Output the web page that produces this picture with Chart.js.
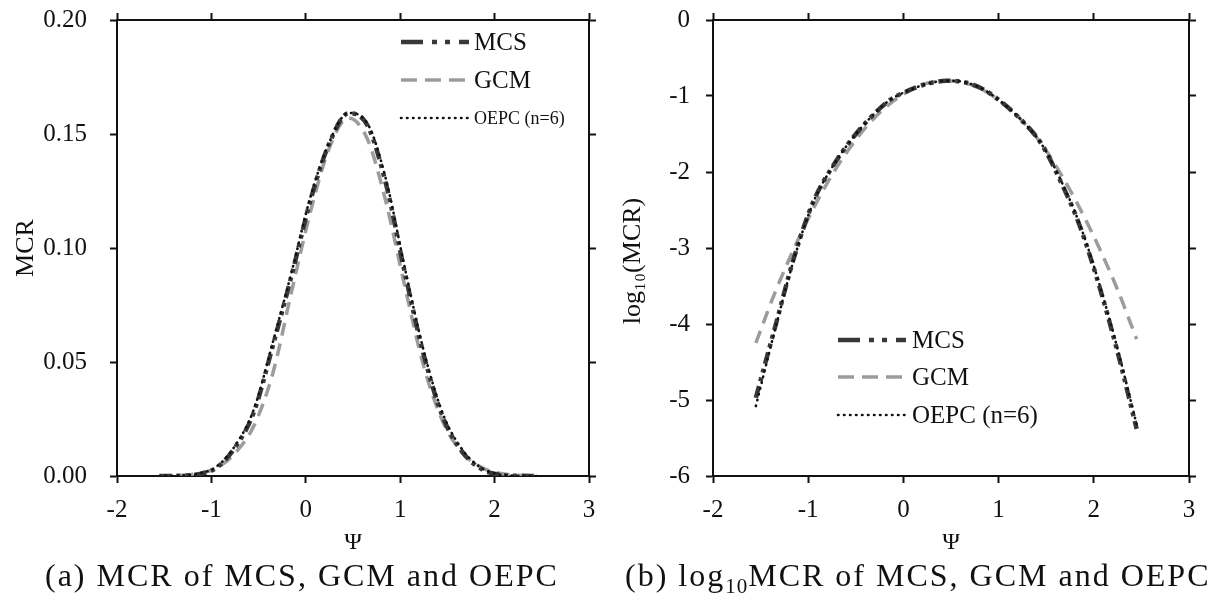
<!DOCTYPE html>
<html>
<head>
<meta charset="utf-8">
<script src="https://cdn.jsdelivr.net/npm/chart.js@4.4.0/dist/chart.umd.min.js"></script>
<style>
  html, body { margin: 0; padding: 0; background: #fff; }
  body { width: 1216px; height: 593px; position: relative; overflow: hidden; font-family: "Liberation Serif", serif; }
  .box { position: absolute; top: 0; height: 593px; }
  #boxA { left: 0; width: 600px; }
  #boxB { left: 600px; width: 616px; }
  .cap { position: absolute; top: 557px; font-size: 32px; line-height: 36px; color: #111; white-space: nowrap; font-family: "Liberation Serif", serif; letter-spacing: 2px; }
  .cap sub { font-size: 21px; vertical-align: -7px; line-height: 0; letter-spacing: 1px; }
</style>
</head>
<body>
<div class="box" id="boxA"><canvas id="chartA"></canvas></div>
<div class="box" id="boxB"><canvas id="chartB"></canvas></div>
<div class="cap" style="left:45px">(a) MCR of MCS, GCM and OEPC</div>
<div class="cap" style="left:625px">(b) log<sub>10</sub>MCR of MCS, GCM and OEPC</div>
<script>
// Ψ grid used by every curve
const psi = [-1.55, -1.35, -1.15, -0.95, -0.75, -0.55, -0.35, -0.15, 0.05, 0.25, 0.45,
             0.65, 0.85, 1.05, 1.25, 1.45, 1.65, 1.85, 2.05, 2.25, 2.45];

// (a) MCR
const mcrMCS  = [0.0000, 0.0001, 0.0007, 0.0035, 0.0125, 0.0280, 0.0570, 0.0880, 0.1210, 0.1460, 0.1590,
                 0.1540, 0.1280, 0.0890, 0.0530, 0.0260, 0.0110, 0.0033, 0.0006, 0.0001, 0.0000];
const mcrGCM  = [0.0001, 0.0003, 0.0010, 0.0034, 0.0100, 0.0220, 0.0450, 0.0810, 0.1160, 0.1440, 0.1570,
                 0.1480, 0.1200, 0.0830, 0.0480, 0.0240, 0.0105, 0.0040, 0.0012, 0.0003, 0.0001];
const mcrOEPC = [0.0000, 0.0002, 0.0010, 0.0040, 0.0132, 0.0292, 0.0585, 0.0895, 0.1225, 0.1465, 0.1592,
                 0.1548, 0.1300, 0.0910, 0.0548, 0.0275, 0.0120, 0.0038, 0.0007, 0.0001, 0.0000];

// (b) log10(MCR)
const logMCS  = [-4.97, -4.05, -3.13, -2.40, -1.94, -1.58, -1.29, -1.06, -0.93, -0.84, -0.80,
                 -0.82, -0.92, -1.10, -1.33, -1.63, -2.12, -2.70, -3.47, -4.37, -5.38];
const logGCM  = [-4.25, -3.59, -3.01, -2.49, -2.04, -1.66, -1.35, -1.11, -0.94, -0.83, -0.80,
                 -0.83, -0.93, -1.10, -1.33, -1.63, -2.02, -2.47, -2.98, -3.55, -4.20];
const logOEPC = [-5.08, -4.08, -3.15, -2.41, -1.94, -1.58, -1.29, -1.06, -0.93, -0.84, -0.80,
                 -0.82, -0.92, -1.10, -1.33, -1.63, -2.10, -2.68, -3.44, -4.33, -5.32];

const seriesNames = ['MCS', 'GCM', 'OEPC (n=6)'];
const psiTicks = [-2, -1, 0, 1, 2, 3];
const mcrTicks = [0, 0.05, 0.10, 0.15, 0.20];
const logTicks = [0, -1, -2, -3, -4, -5, -6];

const INK = '#111';
const serif = '"Liberation Serif", "Times New Roman", serif';

// line looks: plot dash / legend dash
const looks = [
  { color: '#383838', width: 4.5, dash: [12, 5, 4, 5, 4, 5], legendDash: [22, 9, 5, 8, 5, 9], cap: 'butt' },
  { color: '#9c9c9c', width: 3.5, dash: [13, 8], legendDash: [16, 8], cap: 'butt' },
  { color: '#111111', width: 2.6, dash: [0.5, 5.5], legendDash: [0.5, 5.5], cap: 'round' }
];

function pts(ys) { return psi.map((x, i) => ({ x: x, y: ys[i] })); }

function makeDatasets(ysList) {
  // index 0 drawn on top -> OEPC first, then MCS, GCM underneath
  const idx = [2, 0, 1];
  return idx.map(k => ({
    label: seriesNames[k],
    data: pts(ysList[k]),
    borderColor: looks[k].color,
    borderWidth: looks[k].width,
    borderDash: looks[k].dash,
    borderCapStyle: looks[k].cap,
    pointRadius: 0,
    fill: false,
    cubicInterpolationMode: 'monotone'
  }));
}

// legend drawn inside the plot
const boxLegend = {
  id: 'boxLegend',
  afterDraw(chart, args, opts) {
    const ctx = chart.ctx;
    opts.rows.forEach((r, k) => {
      const lk = looks[k];
      ctx.save();
      ctx.strokeStyle = lk.color;
      ctx.lineWidth = lk.width;
      ctx.lineCap = lk.cap;
      ctx.setLineDash(lk.legendDash);
      ctx.beginPath();
      ctx.moveTo(opts.x0, r.y);
      ctx.lineTo(opts.x1, r.y);
      ctx.stroke();
      ctx.setLineDash([]);
      ctx.fillStyle = INK;
      ctx.font = r.size + 'px ' + serif;
      ctx.textBaseline = 'middle';
      ctx.fillText(seriesNames[k], opts.tx, r.y + 1);
      ctx.restore();
    });
  }
};

function fixed(list) { return s => { s.ticks = list.map(v => ({ value: v })); }; }

// pin the axis box size and drop the label overflow padding
function pin(key, val) {
  return s => {
    s[key] = val;
    s.paddingTop = 0; s.paddingBottom = 0; s.paddingLeft = 0; s.paddingRight = 0;
  };
}

function makeOptions(cfg) {
  const gridOpt = { drawOnChartArea: false, tickLength: 7, tickWidth: 2, color: INK };
  const borderOpt = { color: INK, width: 2 };
  return {
    responsive: true,
    maintainAspectRatio: false,
    animation: false,
    layout: { padding: 0 },
    plugins: { legend: { display: false }, tooltip: { enabled: false }, boxLegend: cfg.legend },
    scales: {
      x: {
        type: 'linear', position: 'bottom', min: -2, max: 3,
        afterBuildTicks: fixed(psiTicks),
        afterFit: pin('height', 593 - 476),
        grid: gridOpt, border: borderOpt,
        ticks: { color: INK, font: { family: serif, size: 25 }, padding: 12, maxRotation: 0,
                 callback: v => String(v) },
        title: { display: true, text: 'Ψ', color: INK, font: { family: serif, size: 24 },
                 padding: { top: 0, bottom: 36 } }
      },
      xTop: {
        type: 'linear', position: 'top', min: -2, max: 3,
        afterBuildTicks: fixed(psiTicks),
        afterFit: pin('height', 20),
        grid: gridOpt, border: borderOpt,
        ticks: { display: false }
      },
      y: {
        type: 'linear', position: 'left', min: cfg.ymin, max: cfg.ymax,
        afterBuildTicks: fixed(cfg.yticks),
        afterFit: pin('width', cfg.left),
        grid: gridOpt, border: borderOpt,
        ticks: { color: INK, font: { family: serif, size: 25 }, padding: cfg.tickPad,
                 callback: cfg.fmt },
        title: { display: true, text: cfg.ytitle, color: INK, font: { family: serif, size: 26 },
                 padding: { top: cfg.titlePad, bottom: 0 } }
      },
      yRight: {
        type: 'linear', position: 'right', min: cfg.ymin, max: cfg.ymax,
        afterBuildTicks: fixed(cfg.yticks),
        afterFit: pin('width', cfg.right),
        grid: gridOpt, border: borderOpt,
        ticks: { display: false }
      }
    }
  };
}

new Chart(document.getElementById('chartA'), {
  type: 'line',
  data: { datasets: makeDatasets([mcrMCS, mcrGCM, mcrOEPC]) },
  options: makeOptions({
    ymin: 0, ymax: 0.2, yticks: mcrTicks, fmt: v => v.toFixed(2),
    ytitle: 'MCR', titlePad: 11, tickPad: 23,
    left: 117, right: 600 - 589,
    legend: { x0: 401, x1: 469, tx: 474,
              rows: [{ y: 42, size: 25 }, { y: 80, size: 25 }, { y: 118, size: 18 }] }
  }),
  plugins: [boxLegend]
});

new Chart(document.getElementById('chartB'), {
  type: 'line',
  data: { datasets: makeDatasets([logMCS, logGCM, logOEPC]) },
  options: makeOptions({
    ymin: -6, ymax: 0, yticks: logTicks, fmt: v => String(v),
    // trailing no-break spaces nudge the rotated title down a little
    ytitle: 'log₁₀(MCR)\u00a0\u00a0\u00a0\u00a0', titlePad: 18, tickPad: 16,
    left: 113, right: 616 - 589,
    legend: { x0: 238, x1: 306, tx: 312,
              rows: [{ y: 340, size: 25 }, { y: 377, size: 25 }, { y: 415, size: 25 }] }
  }),
  plugins: [boxLegend]
});
</script>
</body>
</html>
